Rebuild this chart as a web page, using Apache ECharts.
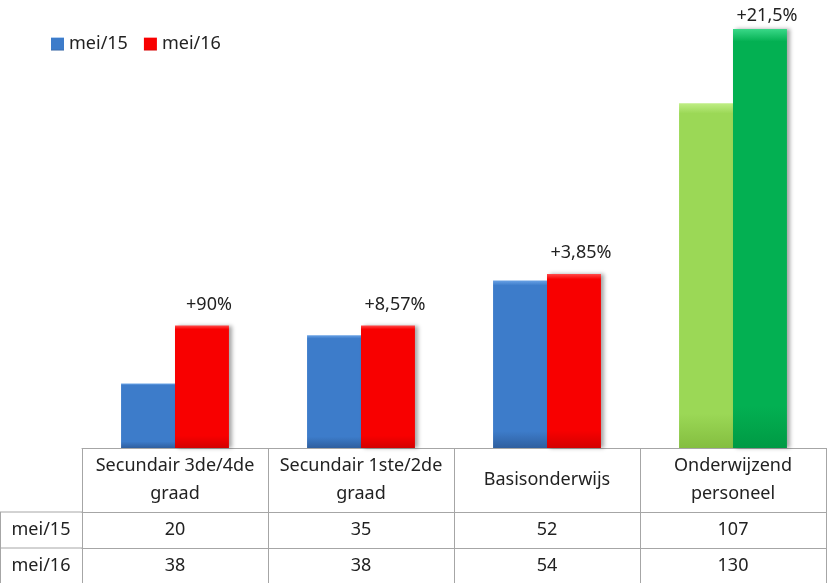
<!DOCTYPE html>
<html>
<head>
<meta charset="utf-8">
<script src="https://cdn.jsdelivr.net/npm/echarts@6/dist/echarts.min.js"></script>
<style>
  html, body { margin: 0; padding: 0; background: #fff; }
  #chart { width: 835px; height: 583px; }
</style>
</head>
<body>
<div id="chart"></div>
<script>
// data
var categories = ["Secundair 3de/4de\ngraad", "Secundair 1ste/2de\ngraad", "Basisonderwijs", "Onderwijzend\npersoneel"];
var seriesNames = ["mei/15", "mei/16"];
var mei15 = [20, 35, 52, 107];
var mei16 = [38, 38, 54, 130];
var changeLabels = ["+90%", "+8,57%", "+3,85%", "+21,5%"];

var FONT = "'Liberation Sans Narrow', 'Noto Sans', sans-serif";
var LINE = "#a6a6a6";

function grad(top, mid, bottom) {
  return new echarts.graphic.LinearGradient(0, 0, 0, 1, [
    { offset: 0, color: top },
    { offset: 0.03, color: mid },
    { offset: 0.9, color: mid },
    { offset: 1, color: bottom }
  ]);
}
var blue = grad("#6aa3e6", "#3d7cca", "#2f5f9f");
var red = grad("#ff4a4a", "#f80000", "#d40000");
var lightGreen = grad("#c0ee86", "#9bd856", "#84be40");
var darkGreen = grad("#3ad888", "#03b052", "#009a44");

var chart = echarts.init(document.getElementById("chart"));

var barStyle = {
  shadowColor: "rgba(0,0,0,0.35)",
  shadowBlur: 4,
  shadowOffsetX: 3
};

function tableAxis(values, offset, margin, tickLen) {
  return {
    type: "category",
    data: values,
    position: "bottom",
    offset: offset,
    axisLine: { show: true, lineStyle: { color: LINE } },
    axisTick: { show: true, alignWithLabel: false, length: tickLen, lineStyle: { color: LINE } },
    axisLabel: {
      fontSize: 18, color: "#222", fontFamily: FONT, lineHeight: 28,
      verticalAlign: "middle", margin: margin, interval: 0
    }
  };
}

chart.setOption({
  animation: false,
  textStyle: { fontFamily: FONT },
  legend: {
    left: 46,
    top: 30,
    itemWidth: 13,
    itemHeight: 13,
    itemGap: 16,
    icon: "rect",
    textStyle: { fontSize: 18, color: "#222", fontFamily: FONT },
    data: seriesNames
  },
  grid: { left: 82, right: 9, top: 0, bottom: 135 },
  yAxis: { type: "value", min: 0, max: 139, show: false },
  xAxis: [
    tableAxis(categories, 0, 32, 64),
    tableAxis(mei15.map(String), 64, 18, 36),
    tableAxis(mei16.map(String), 100, 18, 36)
  ],
  series: [
    {
      name: seriesNames[0],
      type: "bar",
      xAxisIndex: 0,
      barGap: "0%",
      barCategoryGap: "42%",
      itemStyle: Object.assign({ color: blue }, barStyle),
      data: mei15.map(function (v, i) {
        return i === 3 ? { value: v, itemStyle: { color: lightGreen } } : v;
      })
    },
    {
      name: seriesNames[1],
      type: "bar",
      xAxisIndex: 0,
      itemStyle: Object.assign({ color: red }, barStyle),
      label: {
        show: true,
        position: "top",
        distance: 12,
        offset: [7, 0],
        fontSize: 18,
        color: "#222",
        fontFamily: FONT,
        formatter: function (p) { return changeLabels[p.dataIndex]; }
      },
      data: mei16.map(function (v, i) {
        return i === 3 ? { value: v, itemStyle: { color: darkGreen }, label: { distance: 4 } } : v;
      })
    }
  ]
});

// left column of the table: row names and its cell borders
var g = chart.getModel().getComponent("grid").coordinateSystem.getRect();
var x0 = g.x;
var y1 = g.y + g.height + 64;
var y2 = y1 + 36;
var yEnd = 583;
chart.setOption({
  graphic: [
    { type: "line", shape: { x1: 0, y1: y1, x2: x0, y2: y1 }, style: { stroke: LINE, lineWidth: 1 } },
    { type: "line", shape: { x1: 0, y1: y2, x2: x0, y2: y2 }, style: { stroke: LINE, lineWidth: 1 } },
    { type: "line", shape: { x1: 0.5, y1: y1, x2: 0.5, y2: yEnd }, style: { stroke: LINE, lineWidth: 1 } },
    { type: "text", x: x0 / 2, y: (y1 + y2) / 2, style: { text: seriesNames[0], font: "18px " + FONT, fill: "#222", align: "center", verticalAlign: "middle" } },
    { type: "text", x: x0 / 2, y: (y2 + yEnd) / 2, style: { text: seriesNames[1], font: "18px " + FONT, fill: "#222", align: "center", verticalAlign: "middle" } }
  ]
});
</script>
</body>
</html>
